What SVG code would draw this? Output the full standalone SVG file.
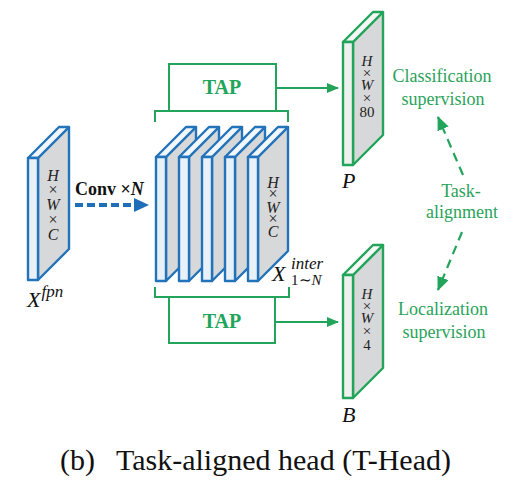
<svg xmlns="http://www.w3.org/2000/svg" width="530" height="488" viewBox="0 0 530 488">
<style>
.bs{stroke:#2373ba;stroke-width:2.4;stroke-linejoin:round}
.gs{stroke:#22a55a;stroke-width:2.4;stroke-linejoin:round}
.fr{fill:#e9f1f8}
.tp{fill:#f2f7fb}
.sd{fill:#d7d8d9}
.gfr{fill:#eef1ee}
.gtp{fill:#f6f7f6}
.dim{font-family:"Liberation Serif","Times New Roman",serif;fill:#222;text-anchor:middle}
.it{font-style:italic}
.lbl{font-family:"Liberation Serif","Times New Roman",serif;font-style:italic;fill:#111}
.gt{font-family:"Liberation Serif","Times New Roman",serif;fill:#2aa35a;font-size:18px;text-anchor:middle}
.tap{font-family:"Liberation Serif","Times New Roman",serif;font-weight:bold;fill:#22a55a;font-size:20px;text-anchor:middle}
.gl{stroke:#22a55a;stroke-width:2;fill:none}
.gd{stroke:#22a55a;stroke-width:2.2;fill:none;stroke-dasharray:9 6}
.cap{font-family:"Liberation Serif","Times New Roman",serif;font-size:30px;fill:#111}
</style>
<defs>
<marker id="ga" viewBox="0 0 12 10" refX="11" refY="5" markerWidth="12" markerHeight="10" markerUnits="userSpaceOnUse" orient="auto">
<path d="M0,0 L12,5 L0,10 Z" fill="#22a55a"/>
</marker>
<marker id="gda" viewBox="0 0 14 12" refX="13" refY="6" markerWidth="14" markerHeight="12" markerUnits="userSpaceOnUse" orient="auto">
<path d="M0,0 L14,6 L0,12 Z" fill="#22a55a"/>
</marker>
</defs>

<g id="x-fpn">
<path class="bs sd" d="M38,158 L69,127 L69,249 L38,280 Z"/>
<path class="bs tp" d="M28,158 L38,158 L69,127 L59,127 Z"/>
<rect class="bs fr" x="28" y="158" width="10" height="122"/>
<text class="dim" font-size="16" x="53"><tspan class="it" x="53" y="181">H</tspan><tspan x="53" y="195">×</tspan><tspan class="it" x="53" y="210">W</tspan><tspan x="53" y="225">×</tspan><tspan class="it" x="53" y="240">C</tspan></text>
<text class="lbl" x="27" y="307" font-size="22">X<tspan font-size="17" dy="-10" dx="1">fpn</tspan></text>
</g>

<g id="x-inter">
<path class="bs sd" d="M166,157 L196,127 L196,251 L166,281 Z"/>
<path class="bs tp" d="M156,157 L166,157 L196,127 L186,127 Z"/>
<rect class="bs fr" x="156" y="157" width="10" height="124"/>
<path class="bs sd" d="M189,157 L219,127 L219,251 L189,281 Z"/>
<path class="bs tp" d="M179,157 L189,157 L219,127 L209,127 Z"/>
<rect class="bs fr" x="179" y="157" width="10" height="124"/>
<path class="bs sd" d="M212,157 L242,127 L242,251 L212,281 Z"/>
<path class="bs tp" d="M202,157 L212,157 L242,127 L232,127 Z"/>
<rect class="bs fr" x="202" y="157" width="10" height="124"/>
<path class="bs sd" d="M235,157 L265,127 L265,251 L235,281 Z"/>
<path class="bs tp" d="M225,157 L235,157 L265,127 L255,127 Z"/>
<rect class="bs fr" x="225" y="157" width="10" height="124"/>
<path class="bs sd" d="M258,157 L288,127 L288,251 L258,281 Z"/>
<path class="bs tp" d="M248,157 L258,157 L288,127 L278,127 Z"/>
<rect class="bs fr" x="248" y="157" width="10" height="124"/>
<text class="dim" font-size="16" x="273"><tspan class="it" x="273" y="188">H</tspan><tspan x="273" y="199">×</tspan><tspan class="it" x="273" y="213">W</tspan><tspan x="273" y="224">×</tspan><tspan class="it" x="273" y="237">C</tspan></text>
<text class="lbl" x="272" y="281" font-size="22">X</text>
<text class="lbl" x="291" y="269" font-size="17">inter</text>
<text class="lbl" x="291" y="285" font-size="15"><tspan font-style="normal">1∼</tspan>N</text>
</g>

<g id="tap-top">
<path class="gl" d="M155,122 L155,111 L288,111 L288,122"/>
<rect class="gl" x="169" y="64" width="107" height="47"/>
<text class="tap" x="222" y="94">TAP</text>
</g>

<g id="tap-bottom">
<path class="gl" d="M155,287 L155,297 L289,297 L289,287"/>
<rect class="gl" x="169" y="297" width="106" height="46"/>
<text class="tap" x="222" y="328">TAP</text>
</g>

<g id="p">
<path class="gs sd" d="M353,42 L383,12 L383,135 L353,165 Z"/>
<path class="gs gtp" d="M343,42 L353,42 L383,12 L373,12 Z"/>
<rect class="gs gfr" x="343" y="42" width="10" height="123"/>
<text class="dim" font-size="15" x="367"><tspan class="it" x="367" y="66">H</tspan><tspan x="367" y="78">×</tspan><tspan class="it" x="367" y="90">W</tspan><tspan x="367" y="103">×</tspan><tspan x="367" y="117">80</tspan></text>
<text class="lbl" x="342" y="188" font-size="22">P</text>
</g>

<g id="b">
<path class="gs sd" d="M353,275 L383,245 L383,368 L353,398 Z"/>
<path class="gs gtp" d="M343,275 L353,275 L383,245 L373,245 Z"/>
<rect class="gs gfr" x="343" y="275" width="10" height="123"/>
<text class="dim" font-size="15" x="367"><tspan class="it" x="367" y="299">H</tspan><tspan x="367" y="311">×</tspan><tspan class="it" x="367" y="323">W</tspan><tspan x="367" y="336">×</tspan><tspan x="367" y="350">4</tspan></text>
<text class="lbl" x="342" y="422" font-size="22">B</text>
</g>

<g id="cls-sup">
<text class="gt" x="442" y="82">Classification</text>
<text class="gt" x="443" y="105">supervision</text>
</g>
<g id="task-align">
<text class="gt" x="461" y="197">Task-</text>
<text class="gt" x="462" y="218">alignment</text>
</g>
<g id="loc-sup">
<text class="gt" x="443" y="315">Localization</text>
<text class="gt" x="444" y="338">supervision</text>
</g>

<g id="connectors">
<line x1="75" y1="205" x2="136" y2="205" stroke="#1f6fb8" stroke-width="4" stroke-dasharray="8 4"/>
<path d="M134,198 L149,205 L134,212 Z" fill="#1f6fb8"/>
<text x="75" y="195" font-family="Liberation Serif,Times New Roman,serif" font-size="18" font-weight="bold" fill="#111">Conv <tspan>×</tspan><tspan font-style="italic">N</tspan></text>
<line class="gl" x1="276" y1="88" x2="338" y2="88" marker-end="url(#ga)"/>
<line class="gl" x1="275" y1="322" x2="338" y2="322" marker-end="url(#ga)"/>
<line class="gd" x1="463" y1="175" x2="438" y2="117" marker-end="url(#gda)"/>
<line class="gd" x1="462" y1="232" x2="438" y2="290" marker-end="url(#gda)"/>
</g>

<text class="cap" x="60" y="470">(b)</text>
<text class="cap" x="116" y="470">Task-aligned head (T-Head)</text>
</svg>
